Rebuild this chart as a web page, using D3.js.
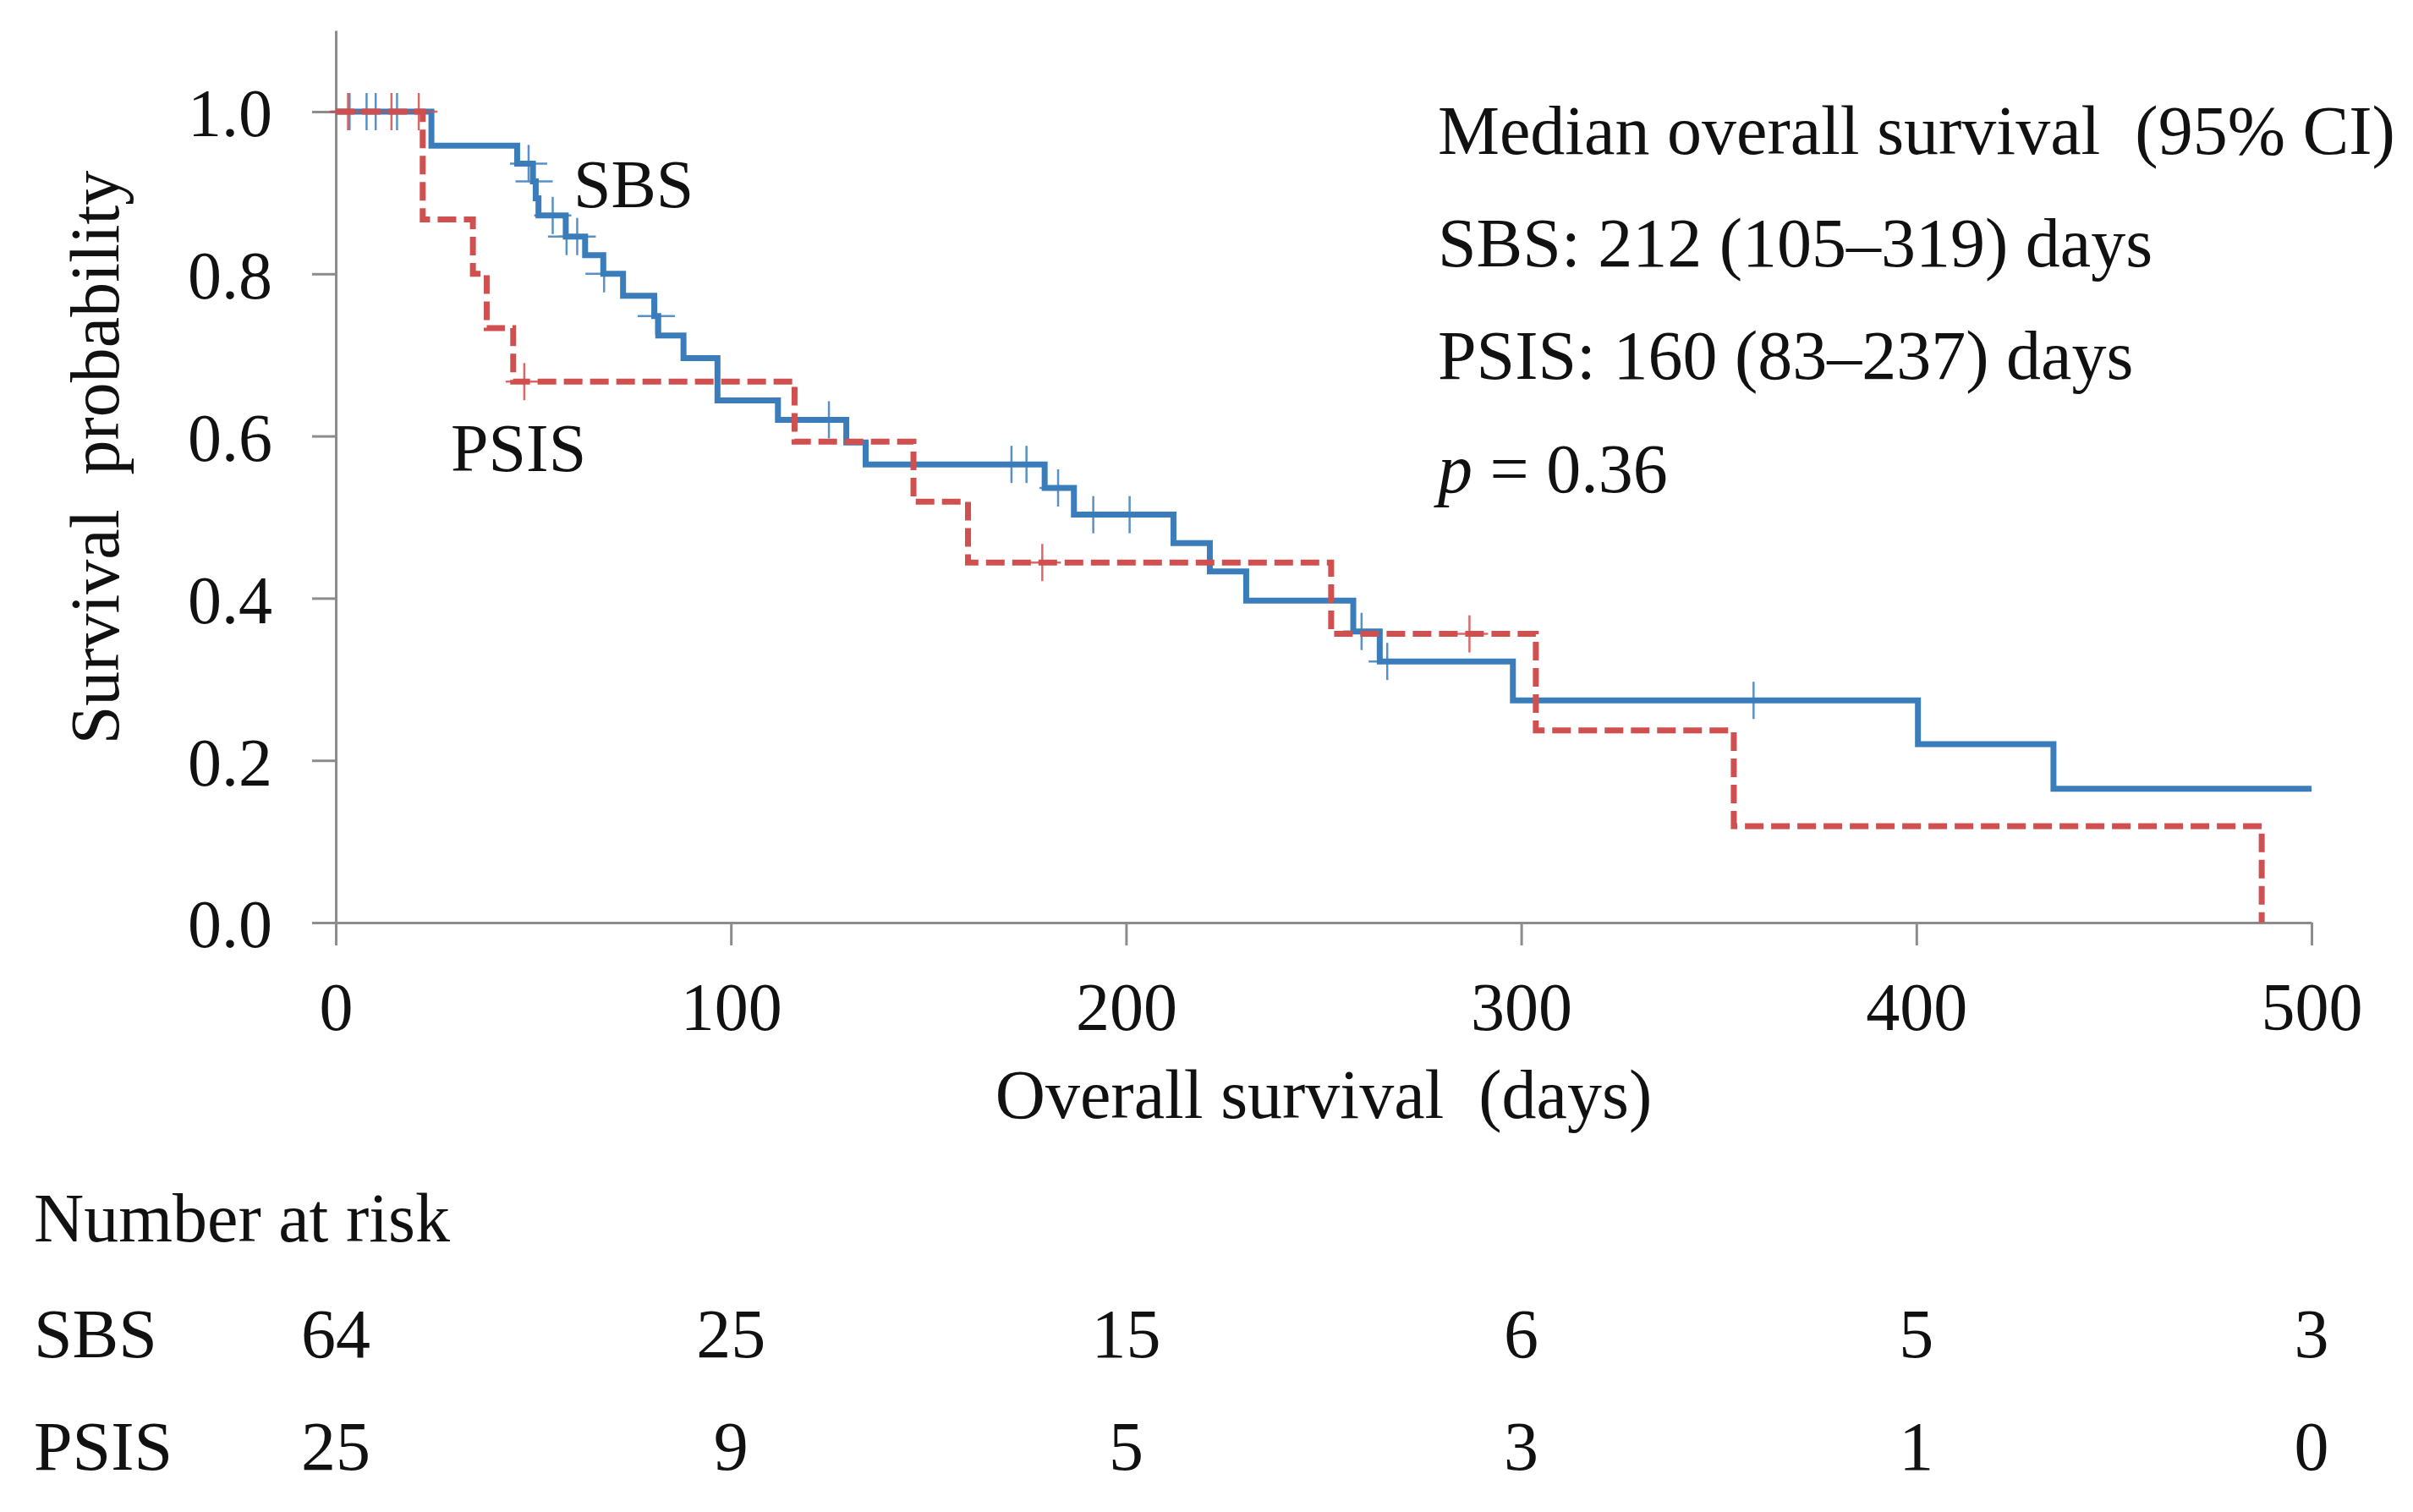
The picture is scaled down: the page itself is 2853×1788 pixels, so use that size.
<!DOCTYPE html>
<html>
<head>
<meta charset="utf-8">
<script src="https://cdn.jsdelivr.net/npm/d3@7"></script>
<style>
  body { margin: 0; background: #fff; }
  svg text { font-family: "Liberation Serif", "Times New Roman", serif; fill: #111; white-space: pre; }
</style>
</head>
<body>
<svg id="chart" width="2853" height="1788" viewBox="0 0 2853 1788"></svg>
<script>
// Kaplan-Meier steps (day of event, survival after it)
const sbsTimes = [24.2, 45.9, 49.9, 50.6, 51.3, 58.2, 63.1, 67.7, 72.7, 80.6, 81.6, 88.0, 96.6, 111.9, 129.2, 134.1, 179.4, 186.8, 212.0, 221.2, 230.4, 257.5, 264.2, 297.9, 400.4, 434.7];
const sbsSurv = [0.958, 0.936, 0.914, 0.893, 0.872, 0.846, 0.823, 0.800, 0.773, 0.748, 0.724, 0.696, 0.644, 0.620, 0.592, 0.565, 0.536, 0.503, 0.468, 0.433, 0.397, 0.359, 0.322, 0.274, 0.220, 0.165];
const sbsEnd = 500;
const sbsCensor = [3.5, 7.8, 10.1, 15.5, 48.8, 50.2, 54.9, 58.4, 61.1, 67.9, 81.1, 124.8, 171.0, 174.8, 182.8, 191.7, 200.9, 259.6, 266.1, 358.8];

const psisTimes = [22.0, 34.7, 38.2, 44.9, 116.1, 146.2, 160.0, 251.9, 303.7, 353.8, 487.4];
const psisSurv = [0.867, 0.800, 0.733, 0.667, 0.593, 0.519, 0.444, 0.356, 0.237, 0.119, 0.0];
const psisEnd = 487.4;
const psisCensor = [3.1, 14.1, 21.0, 47.7, 178.8, 286.9];

const xTicks = [0, 100, 200, 300, 400, 500];
const yTicks = [0, 0.2, 0.4, 0.6, 0.8, 1.0];

const riskDays = [0, 100, 200, 300, 400, 500];
const sbsRisk = [64, 25, 15, 6, 5, 3];
const psisRisk = [25, 9, 5, 3, 1, 0];

const noteLines = ["Median overall survival  (95% CI)", "SBS: 212 (105\u2013319) days", "PSIS: 160 (83\u2013237) days"];
const pValue = "0.36";

const blue = "#3b7dbb";
const red = "#d04f4f";
const axisGrey = "#8c8c8c";

const svg = d3.select("#chart");

const x = d3.scaleLinear().domain([0, 500]).range([397, 2733]);
const y = d3.scaleLinear().domain([0, 1.1]).range([1091, 1091 - 1.1 * 959]);

// axes
const xAxis = svg.append("g")
  .attr("transform", `translate(0,${y(0)})`)
  .call(d3.axisBottom(x).tickValues(xTicks).tickSize(27).tickSizeOuter(0));
xAxis.selectAll("text")
  .attr("y", 127)
  .attr("dy", 0)
  .style("font-size", "80px");

const yAxis = svg.append("g")
  .attr("transform", `translate(${x(0)},0)`)
  .call(d3.axisLeft(y).tickValues(yTicks).tickSize(28).tickSizeOuter(0).tickFormat(d3.format(".1f")));
yAxis.selectAll("text")
  .attr("x", -75)
  .attr("dy", "0.36em")
  .style("font-size", "80px");

svg.selectAll(".domain, .tick line")
  .attr("stroke", axisGrey)
  .attr("stroke-width", 3);

// curves
function stepPoints(times, surv, end) {
  const pts = [[0, 1]];
  times.forEach((t, i) => pts.push([t, surv[i]]));
  if (end > times[times.length - 1]) pts.push([end, surv[surv.length - 1]]);
  return pts;
}

function survAt(times, surv, t) {
  let s = 1;
  times.forEach((d, i) => { if (d <= t) s = surv[i]; });
  return s;
}

const line = d3.line()
  .x(d => x(d[0]))
  .y(d => y(d[1]))
  .curve(d3.curveStepAfter);

function drawCensor(times, surv, censor, color) {
  const g = svg.append("g")
    .attr("stroke", color)
    .attr("stroke-width", 2.5)
    .attr("opacity", 0.85);
  const marks = g.selectAll("g")
    .data(censor)
    .enter()
    .append("g")
    .attr("transform", d => `translate(${x(d)},${y(survAt(times, surv, d))})`);
  marks.append("line").attr("x1", 0).attr("x2", 0).attr("y1", -22).attr("y2", 22);
  marks.append("line").attr("x1", -22).attr("x2", 22).attr("y1", 0).attr("y2", 0);
}

svg.append("path")
  .datum(stepPoints(sbsTimes, sbsSurv, sbsEnd))
  .attr("d", line)
  .attr("fill", "none")
  .attr("stroke", blue)
  .attr("stroke-width", 7);
drawCensor(sbsTimes, sbsSurv, sbsCensor, blue);

svg.append("path")
  .datum(stepPoints(psisTimes, psisSurv, psisEnd))
  .attr("d", line)
  .attr("fill", "none")
  .attr("stroke", red)
  .attr("stroke-width", 7)
  .attr("stroke-dasharray", "22 9");
drawCensor(psisTimes, psisSurv, psisCensor, red);

// curve labels
svg.append("text").attr("x", 678).attr("y", 245).style("font-size", "80px").text("SBS");
svg.append("text").attr("x", 533).attr("y", 557).style("font-size", "80px").text("PSIS");

// axis titles
svg.append("text")
  .attr("x", (x(0) + x(500)) / 2)
  .attr("y", 1322)
  .attr("text-anchor", "middle")
  .style("font-size", "82px")
  .text("Overall survival  (days)");

svg.append("text")
  .attr("transform", "translate(140,541) rotate(-90)")
  .attr("text-anchor", "middle")
  .style("font-size", "82px")
  .text("Survival  probability");

// median annotation
svg.selectAll(".note")
  .data(noteLines)
  .enter()
  .append("text")
  .attr("class", "note")
  .attr("x", 1700)
  .attr("y", (d, i) => 182 + i * 133)
  .style("font-size", "82px")
  .text(d => d);

const pText = svg.append("text")
  .attr("x", 1700)
  .attr("y", 582)
  .style("font-size", "82px");
pText.append("tspan").style("font-style", "italic").text("p");
pText.append("tspan").text(" = " + pValue);

// number at risk table
svg.append("text").attr("x", 40).attr("y", 1468).style("font-size", "82px").text("Number at risk");

const rows = [
  { name: "SBS", values: sbsRisk, yPos: 1605 },
  { name: "PSIS", values: psisRisk, yPos: 1738 }
];

rows.forEach(r => {
  svg.append("text").attr("x", 40).attr("y", r.yPos).style("font-size", "82px").text(r.name);
  svg.selectAll(null)
    .data(r.values)
    .enter()
    .append("text")
    .attr("x", (d, i) => x(riskDays[i]))
    .attr("y", r.yPos)
    .attr("text-anchor", "middle")
    .style("font-size", "82px")
    .text(d => d);
});
</script>
</body>
</html>
